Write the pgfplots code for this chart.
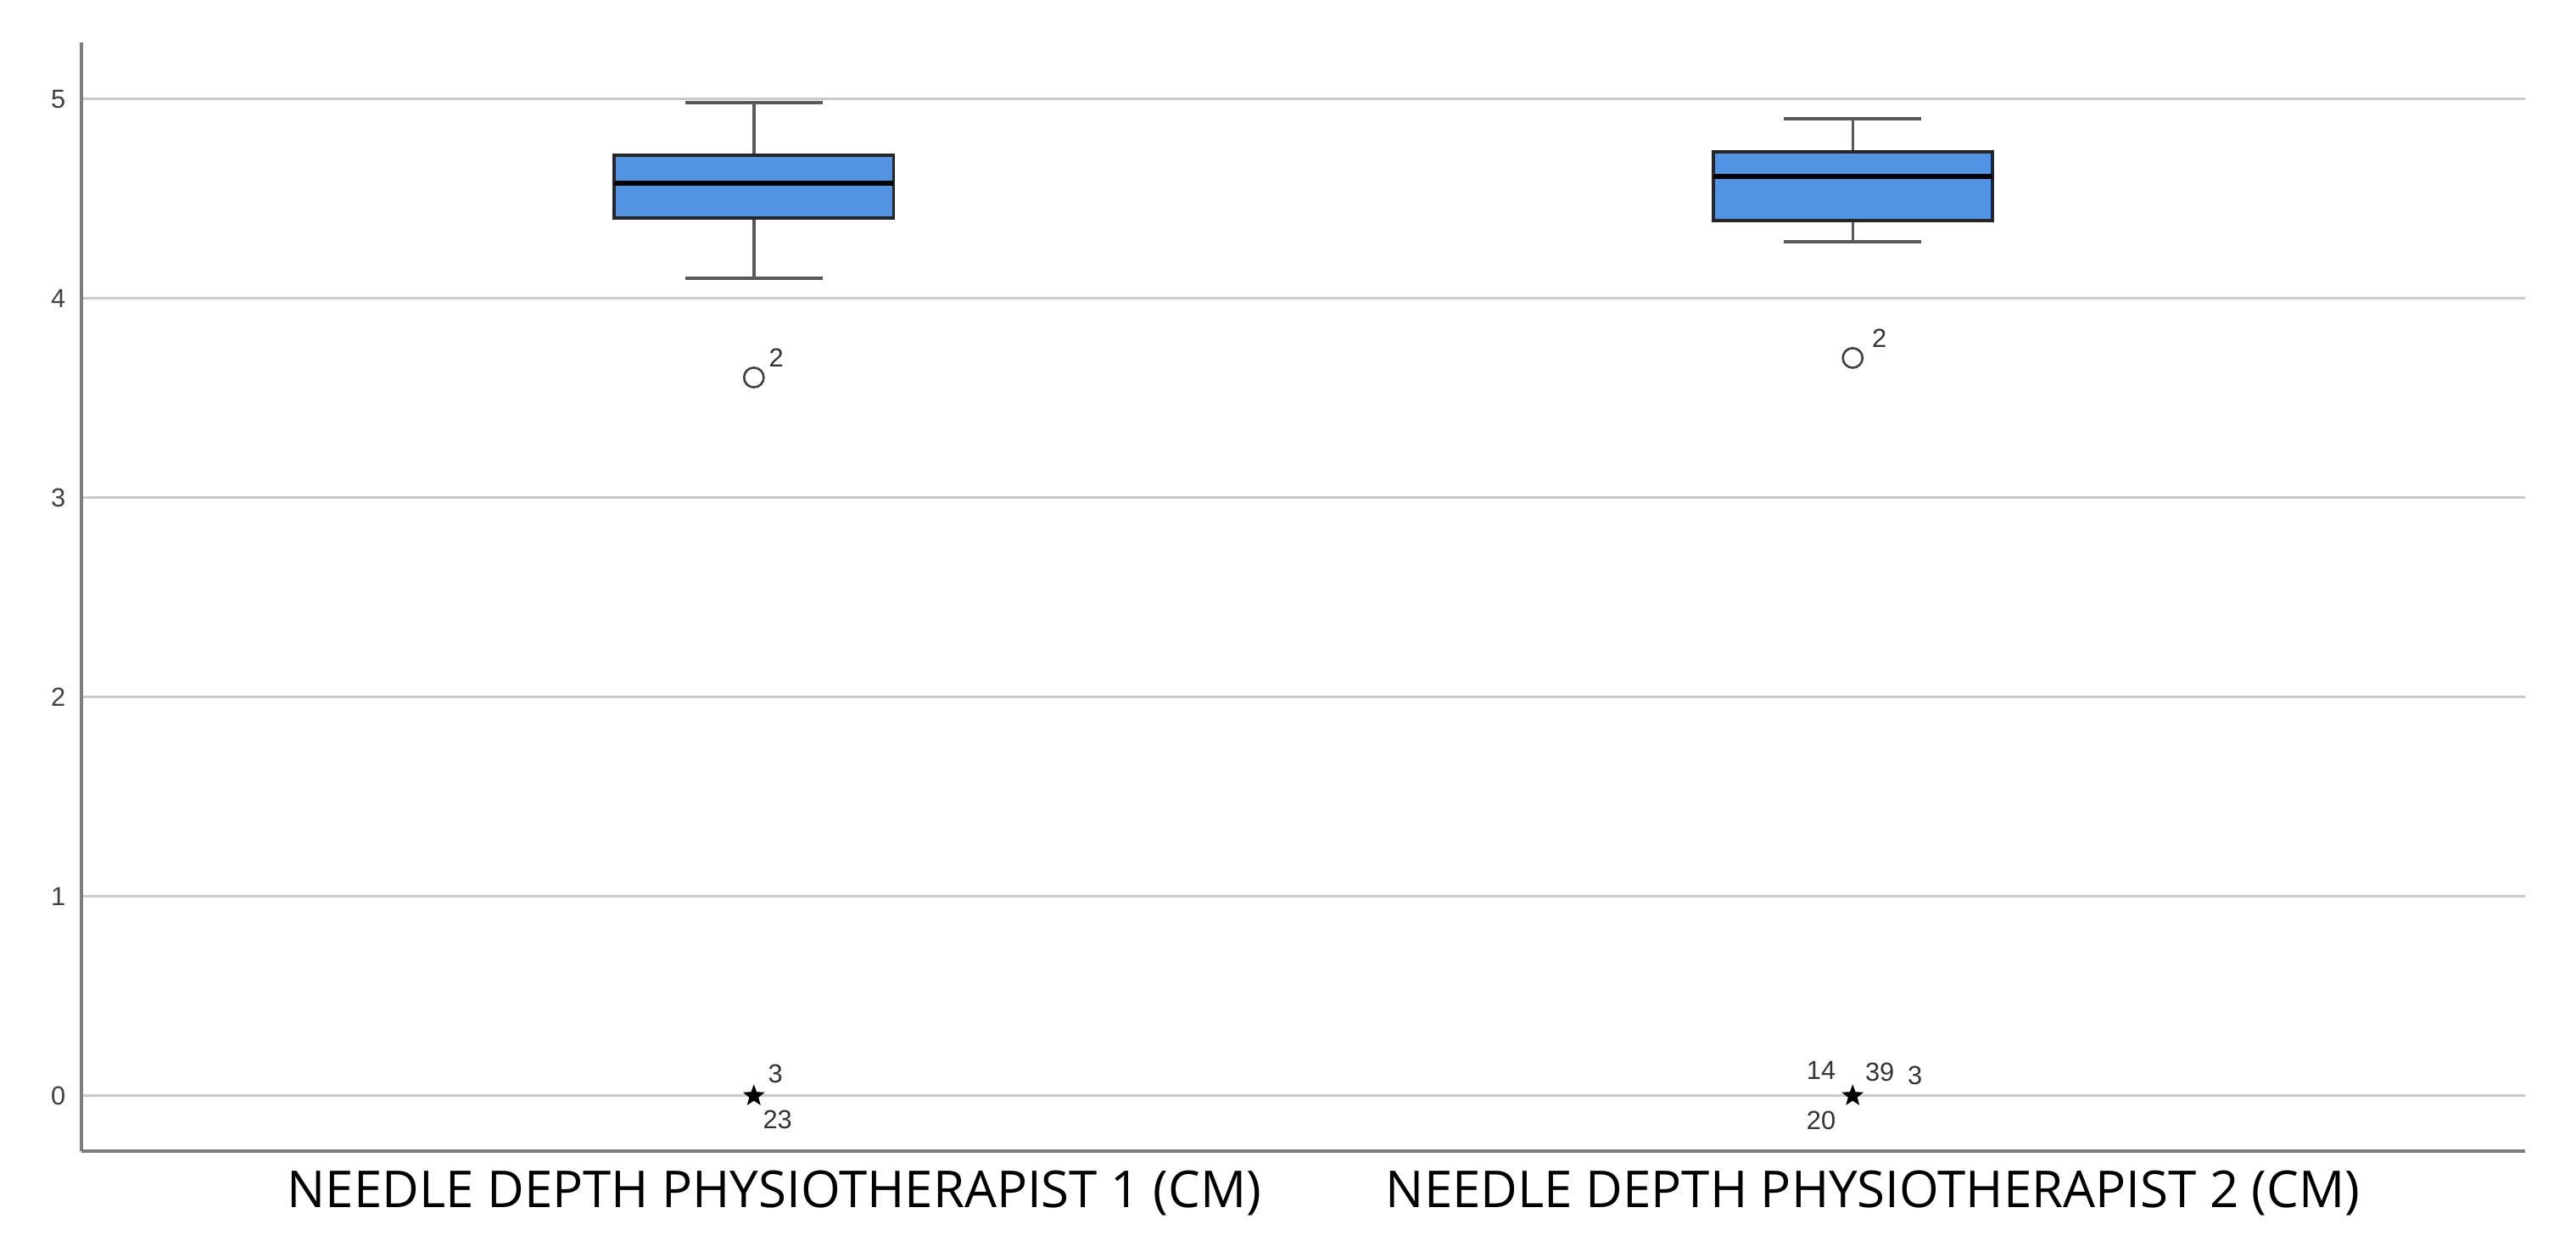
\documentclass[border=0pt]{standalone}
\usepackage{fontspec}
\setmainfont{Liberation Sans}
\newfontfamily\catfont{Open Sans}
\usepackage{pgfplots}
\pgfplotsset{compat=1.18}
\usepgfplotslibrary{statistics}

\definecolor{boxblue}{RGB}{83,148,226}
\definecolor{gridgray}{RGB}{202,202,202}
\definecolor{axisgray}{RGB}{125,125,125}

% filled five-point star, SPSS style extreme marker
\pgfdeclareplotmark{fstar}{%
  \pgfpathmoveto{\pgfpointpolar{90}{\pgfplotmarksize}}%
  \pgfpathlineto{\pgfpointpolar{126}{0.42\pgfplotmarksize}}%
  \pgfpathlineto{\pgfpointpolar{162}{\pgfplotmarksize}}%
  \pgfpathlineto{\pgfpointpolar{198}{0.42\pgfplotmarksize}}%
  \pgfpathlineto{\pgfpointpolar{234}{\pgfplotmarksize}}%
  \pgfpathlineto{\pgfpointpolar{270}{0.42\pgfplotmarksize}}%
  \pgfpathlineto{\pgfpointpolar{306}{\pgfplotmarksize}}%
  \pgfpathlineto{\pgfpointpolar{342}{0.42\pgfplotmarksize}}%
  \pgfpathlineto{\pgfpointpolar{18}{\pgfplotmarksize}}%
  \pgfpathlineto{\pgfpointpolar{54}{0.42\pgfplotmarksize}}%
  \pgfpathclose
  \pgfusepathqfillstroke
}

\newcommand{\lab}{\fontsize{7.7}{9}\selectfont}

\begin{document}
\begin{tikzpicture}
\useasboundingbox (-24pt,-31.5pt) rectangle (735.25pt,339.25pt);
\begin{axis}[
  at={(0pt,0pt)}, anchor=south west,
  scale only axis, width=720.25pt, height=326.75pt,
  xmin=0.388, xmax=2.612, ymin=-0.277, ymax=5.285,
  axis lines=left,
  axis line style={-, draw=axisgray, line width=0.8pt},
  ytick={0,1,2,3,4,5},
  xtick={1,2},
  xticklabels={NEEDLE DEPTH PHYSIOTHERAPIST 1 (CM), NEEDLE DEPTH PHYSIOTHERAPIST 2 (CM)},
  major tick length=0pt,
  ymajorgrids,
  grid style={gridgray, line width=0.75pt},
  /pgf/number format/assume math mode=true,
  y tick label style={font=\lab, text=black!75, inner sep=0pt, xshift=-4.5pt},
  x tick label style={font=\catfont\fontsize{15}{18}\selectfont, inner sep=0pt, yshift=-5.5pt, xshift=6pt},
  boxplot/draw direction=y,
  boxplot/every box/.style={draw=black!85, fill=boxblue, line width=0.9pt},
  boxplot/every median/.style={draw=black, line width=1.4pt},
  boxplot/every whisker/.style={draw=black!65, line width=0.85pt},
  clip=false,
]
% boxes, with the outlier (case 2) given as data
\addplot+[boxplot prepared={draw position=1,
    median=4.579, upper quartile=4.719, lower quartile=4.404,
    upper whisker=4.983, lower whisker=4.102,
    box extend=0.254, whisker extend=0.125},
  draw=black!80, mark=o, mark size=2.9pt,
  mark options={draw=black!75, line width=0.65pt, fill=white}]
  table[row sep=\\, header=false, y index=0] {3.604\\};
\addplot+[boxplot prepared={draw position=2,
    median=4.613, upper quartile=4.736, lower quartile=4.391,
    upper whisker=4.902, lower whisker=4.285,
    box extend=0.254, whisker extend=0.125},
  draw=black!80, mark=o, mark size=2.9pt,
  mark options={draw=black!75, line width=0.65pt, fill=white}]
  table[row sep=\\, header=false, y index=0] {3.702\\};

% extremes (stars)
\addplot[only marks, mark=fstar, mark size=3.1pt,
  mark options={fill=black, draw=black, line width=0.2pt}]
  coordinates {(1,0) (2,0)};

% case numbers
\node[anchor=south west, inner sep=0pt, font=\lab, text=black!80] at (axis cs:1.0131,3.655) {2};
\node[anchor=south west, inner sep=0pt, font=\lab, text=black!80] at (axis cs:2.0170,3.753) {2};
\node[anchor=south west, inner sep=0pt, font=\lab, text=black!80] at (axis cs:1.0124,0.060) {3};
\node[anchor=south west, inner sep=0pt, font=\lab, text=black!80] at (axis cs:1.0077,-0.170) {23};
\node[anchor=south west, inner sep=0pt, font=\lab, text=black!80] at (axis cs:1.9575,0.081) {14};
\node[anchor=south west, inner sep=0pt, font=\lab, text=black!80] at (axis cs:2.0108,0.068) {39};
\node[anchor=south west, inner sep=0pt, font=\lab, text=black!80] at (axis cs:2.0494,0.051) {3};
\node[anchor=south west, inner sep=0pt, font=\lab, text=black!80] at (axis cs:1.9575,-0.174) {20};
\end{axis}
\end{tikzpicture}
\end{document}
